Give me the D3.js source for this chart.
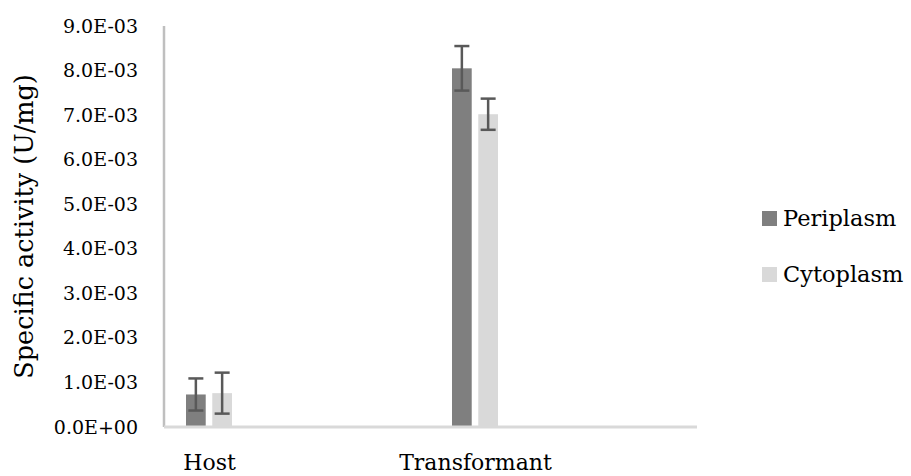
<!DOCTYPE html>
<html>
<head>
<meta charset="utf-8">
<script src="https://cdn.jsdelivr.net/npm/d3@7"></script>
<style>
  html, body { margin: 0; padding: 0; background: #fff; }
</style>
</head>
<body>
<div id="chart"></div>
<script>
// data
const categories = ["Host", "Transformant"];
const seriesNames = ["Periplasm", "Cytoplasm"];
const periplasm = [0.73e-3, 8.05e-3];
const cytoplasm = [0.76e-3, 7.02e-3];
const periplasmErr = [0.36e-3, 0.50e-3];
const cytoplasmErr = [0.46e-3, 0.35e-3];
const yTicks = [0, 1e-3, 2e-3, 3e-3, 4e-3, 5e-3, 6e-3, 7e-3, 8e-3, 9e-3];
const colors = ["#7f7f7f", "#d9d9d9"];

const WIDTH = 911, HEIGHT = 476;
const plotLeft = 164, plotRight = 697, plotTop = 26, plotBottom = 427;
const FONT = "'DejaVu Serif', serif";

const svg = d3.select("#chart").append("svg")
  .attr("width", WIDTH)
  .attr("height", HEIGHT)
  .style("font-family", FONT);

const y = d3.scaleLinear().domain([0, 9e-3]).range([plotBottom, plotTop]);
const x = d3.scalePoint().domain(categories).range([209, 475]);
const xs = d3.scaleBand().domain(seriesNames).range([-23, 23]).paddingInner(0.25);

// Excel style scientific labels: 9.0E-03
const fmt = d => {
  const [m, e] = d.toExponential(1).toUpperCase().split("E");
  const n = +e;
  return m + "E" + (n < 0 ? "-" : "+") + String(Math.abs(n)).padStart(2, "0");
};

// y axis
const yAxis = svg.append("g")
  .attr("transform", `translate(${plotLeft},0)`)
  .call(d3.axisLeft(y).tickValues(yTicks).tickFormat(fmt).tickSize(0).tickPadding(26));
yAxis.attr("font-family", null);
yAxis.select(".domain").remove();
yAxis.selectAll("text").attr("font-size", 19).style("font-family", FONT).attr("fill", "#000");
svg.append("line")
  .attr("x1", plotLeft).attr("x2", plotLeft)
  .attr("y1", y(9e-3)).attr("y2", y(0))
  .attr("stroke", "#bfbfbf").attr("stroke-width", 2.5);

// bars
const rows = categories.map((c, i) => ({
  cat: c,
  vals: [
    { s: seriesNames[0], v: periplasm[i], e: periplasmErr[i], col: colors[0] },
    { s: seriesNames[1], v: cytoplasm[i], e: cytoplasmErr[i], col: colors[1] }
  ]
}));

const grp = svg.selectAll(".grp").data(rows).enter().append("g")
  .attr("transform", d => `translate(${x(d.cat)},0)`);

grp.selectAll("rect").data(d => d.vals).enter().append("rect")
  .attr("x", d => xs(d.s))
  .attr("width", xs.bandwidth())
  .attr("y", d => y(d.v))
  .attr("height", d => y(0) - y(d.v))
  .attr("fill", d => d.col);

// x axis line
svg.append("line")
  .attr("x1", plotLeft).attr("x2", plotRight)
  .attr("y1", plotBottom).attr("y2", plotBottom)
  .attr("stroke", "#d9d9d9").attr("stroke-width", 3);

// error bars
const eb = grp.selectAll(".err").data(d => d.vals).enter().append("g")
  .attr("stroke", "#595959").attr("stroke-width", 2.5);
const cx = d => xs(d.s) + xs.bandwidth() / 2;
eb.append("line")
  .attr("x1", cx).attr("x2", cx)
  .attr("y1", d => y(d.v + d.e)).attr("y2", d => y(d.v - d.e));
eb.append("line")
  .attr("x1", d => cx(d) - 7.5).attr("x2", d => cx(d) + 7.5)
  .attr("y1", d => y(d.v + d.e)).attr("y2", d => y(d.v + d.e));
eb.append("line")
  .attr("x1", d => cx(d) - 7.5).attr("x2", d => cx(d) + 7.5)
  .attr("y1", d => y(d.v - d.e)).attr("y2", d => y(d.v - d.e));

// category labels
const xAxis = svg.append("g")
  .attr("transform", `translate(0,${plotBottom})`)
  .call(d3.axisBottom(x).tickSize(0).tickPadding(27));
xAxis.attr("font-family", null);
xAxis.select(".domain").remove();
xAxis.selectAll("text").attr("font-size", 22).style("font-family", FONT).attr("fill", "#000");

// y title
svg.append("text")
  .attr("transform", `translate(33,${(plotTop + plotBottom) / 2}) rotate(-90)`)
  .attr("text-anchor", "middle")
  .attr("font-size", 25.5)
  .style("font-family", FONT)
  .text("Specific activity (U/mg)");

// legend
const leg = svg.selectAll(".leg").data(seriesNames).enter().append("g")
  .attr("transform", (d, i) => `translate(762,${218.5 + i * 56})`);
leg.append("rect")
  .attr("x", 0).attr("y", -7.5)
  .attr("width", 15).attr("height", 15)
  .attr("fill", (d, i) => colors[i]);
leg.append("text")
  .attr("x", 21).attr("y", 0)
  .attr("dy", "0.35em")
  .attr("font-size", 22.5)
  .style("font-family", FONT)
  .text(d => d);
</script>
</body>
</html>
